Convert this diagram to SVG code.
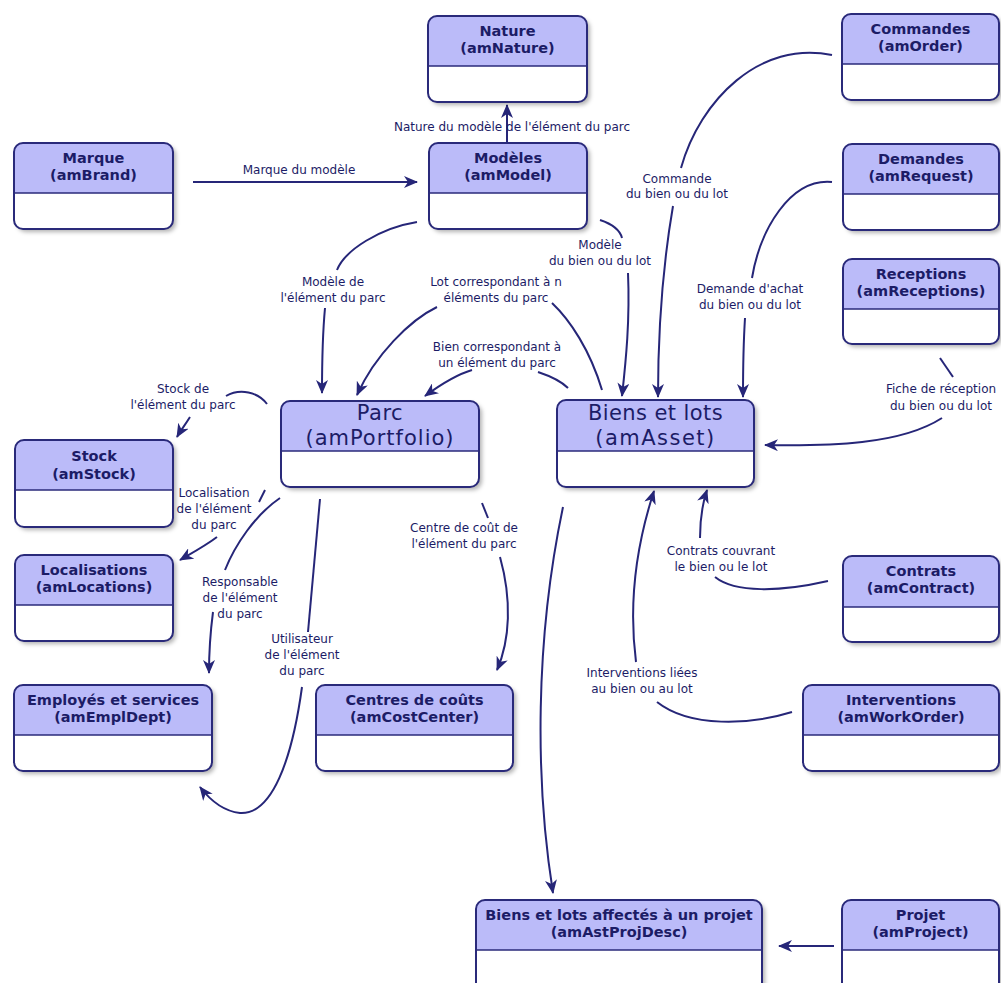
<svg xmlns="http://www.w3.org/2000/svg" width="1001" height="983" viewBox="0 0 1001 983">
<style>
.bg{fill:#fff;}
.hdr{fill:#bbbbf9;}
.ol{fill:none;stroke:#2a2a7a;stroke-width:2;}
.dv{fill:none;stroke:#2a2a7a;stroke-width:1.6;}
.t{font-family:"DejaVu Sans",sans-serif;font-weight:bold;font-size:14.5px;fill:#1c1c66;text-anchor:middle;}
.T{font-family:"DejaVu Sans",sans-serif;font-size:21px;fill:#1c1c66;text-anchor:middle;}
.l{font-family:"DejaVu Sans",sans-serif;font-size:12px;fill:#1c1c66;text-anchor:middle;}
.c{fill:none;stroke:#262678;stroke-width:2;}
.a{marker-end:url(#ah);}
</style>
<defs>
<marker id="ah" markerUnits="userSpaceOnUse" markerWidth="14" markerHeight="12" refX="13" refY="6" orient="auto">
<path d="M0,0 L14,6 L0,12 L4,6 Z" fill="#262678"/>
</marker>
<filter id="sh" x="-10%" y="-10%" width="130%" height="140%">
<feDropShadow dx="3" dy="3" stdDeviation="2" flood-color="#000" flood-opacity="0.3"/>
</filter>
</defs>
<rect width="1001" height="983" fill="#fff"/>

<g id="connectors">
<path class="c a" d="M507,142 L507,105"/>
<path class="c a" d="M193,182 L417,182"/>
<path class="c" d="M832,55 C760,40 700,100 681,168"/>
<path class="c a" d="M673,206 C662,270 658,340 658,397"/>
<path class="c" d="M832,182 C790,178 760,230 752,278"/>
<path class="c a" d="M745,318 C743,350 743,375 743,397"/>
<path class="c" d="M940,358 L953,377"/>
<path class="c a" d="M942,418 C900,445 830,446 765,445"/>
<path class="c" d="M600,220 C612,224 620,230 622,238"/>
<path class="c a" d="M628,273 C630,320 626,360 622,396"/>
<path class="c" d="M417,222 C380,228 345,250 337,270"/>
<path class="c a" d="M325,308 C322,340 322,370 322,393"/>
<path class="c" d="M602,390 C590,350 570,320 552,303"/>
<path class="c a" d="M437,307 C410,320 375,355 357,395"/>
<path class="c" d="M568,388 C560,380 550,376 538,372"/>
<path class="c a" d="M472,370 C455,375 440,385 425,396"/>
<path class="c" d="M267,404 C258,392 240,388 226,396"/>
<path class="c a" d="M190,417 C185,425 181,430 177,437"/>
<path class="c" d="M265,490 L259,502"/>
<path class="c a" d="M217,537 C205,546 192,553 180,560"/>
<path class="c" d="M280,498 C255,515 235,545 225,570"/>
<path class="c a" d="M213,612 C210,635 209,655 209,673"/>
<path class="c" d="M320,499 C316,545 312,590 308,632"/>
<path class="c a" d="M302,687 C292,760 272,815 240,813 C222,811 210,800 200,787"/>
<path class="c" d="M482,503 L488,518"/>
<path class="c a" d="M500,557 C512,600 510,640 497,670"/>
<path class="c a" d="M563,507 C535,640 535,780 553,893"/>
<path class="c a" d="M834,946 L779,946"/>
<path class="c" d="M828,581 C780,592 735,593 715,577"/>
<path class="c a" d="M700,538 C700,520 702,505 707,490"/>
<path class="c" d="M792,712 C750,725 690,728 657,702"/>
<path class="c a" d="M636,662 C628,600 638,540 654,491"/>

<text class="l" x="512" y="131">Nature du modèle de l'élément du parc</text>
<text class="l" x="299" y="174">Marque du modèle</text>
<text class="l" x="677" y="183">Commande</text>
<text class="l" x="677" y="198">du bien ou du lot</text>
<text class="l" x="600" y="249">Modèle</text>
<text class="l" x="600" y="265">du bien ou du lot</text>
<text class="l" x="750" y="293">Demande d'achat</text>
<text class="l" x="750" y="309">du bien ou du lot</text>
<text class="l" x="941" y="393">Fiche de réception</text>
<text class="l" x="941" y="410">du bien ou du lot</text>
<text class="l" x="333" y="286">Modèle de</text>
<text class="l" x="333" y="302">l'élément du parc</text>
<text class="l" x="496" y="286">Lot correspondant à n</text>
<text class="l" x="496" y="302">éléments du parc</text>
<text class="l" x="497" y="351">Bien correspondant à</text>
<text class="l" x="497" y="367">un élément du parc</text>
<text class="l" x="183" y="393">Stock de</text>
<text class="l" x="183" y="409">l'élément du parc</text>
<text class="l" x="214" y="497">Localisation</text>
<text class="l" x="214" y="513">de l'élément</text>
<text class="l" x="214" y="529">du parc</text>
<text class="l" x="240" y="586">Responsable</text>
<text class="l" x="240" y="602">de l'élément</text>
<text class="l" x="240" y="618">du parc</text>
<text class="l" x="302" y="643">Utilisateur</text>
<text class="l" x="302" y="659">de l'élément</text>
<text class="l" x="302" y="675">du parc</text>
<text class="l" x="464" y="532">Centre de coût de</text>
<text class="l" x="464" y="548">l'élément du parc</text>
<text class="l" x="721" y="555">Contrats couvrant</text>
<text class="l" x="721" y="571">le bien ou le lot</text>
<text class="l" x="642" y="677">Interventions liées</text>
<text class="l" x="642" y="693">au bien ou au lot</text>
</g>

<g id="n-nature" transform="translate(428,16)">
<rect class="bg" width="159" height="86" rx="9" filter="url(#sh)"/>
<path class="hdr" d="M0,50 V9 Q0,0 9,0 H150 Q159,0 159,9 V50 Z"/>
<path class="dv" d="M0,50 H159"/>
<rect class="ol" width="159" height="86" rx="9"/>
<text class="t" x="79.5" y="20">Nature</text>
<text class="t" x="79.5" y="37">(amNature)</text>
</g>

<g id="n-commandes" transform="translate(842,14)">
<rect class="bg" width="157" height="86" rx="9" filter="url(#sh)"/>
<path class="hdr" d="M0,50 V9 Q0,0 9,0 H148 Q157,0 157,9 V50 Z"/>
<path class="dv" d="M0,50 H157"/>
<rect class="ol" width="157" height="86" rx="9"/>
<text class="t" x="78.5" y="20">Commandes</text>
<text class="t" x="78.5" y="37">(amOrder)</text>
</g>

<g id="n-marque" transform="translate(14,143)">
<rect class="bg" width="159" height="86" rx="9" filter="url(#sh)"/>
<path class="hdr" d="M0,50 V9 Q0,0 9,0 H150 Q159,0 159,9 V50 Z"/>
<path class="dv" d="M0,50 H159"/>
<rect class="ol" width="159" height="86" rx="9"/>
<text class="t" x="79.5" y="20">Marque</text>
<text class="t" x="79.5" y="37">(amBrand)</text>
</g>

<g id="n-modeles" transform="translate(429,143)">
<rect class="bg" width="158" height="86" rx="9" filter="url(#sh)"/>
<path class="hdr" d="M0,50 V9 Q0,0 9,0 H149 Q158,0 158,9 V50 Z"/>
<path class="dv" d="M0,50 H158"/>
<rect class="ol" width="158" height="86" rx="9"/>
<text class="t" x="79" y="20">Modèles</text>
<text class="t" x="79" y="37">(amModel)</text>
</g>

<g id="n-demandes" transform="translate(843,144)">
<rect class="bg" width="156" height="86" rx="9" filter="url(#sh)"/>
<path class="hdr" d="M0,50 V9 Q0,0 9,0 H147 Q156,0 156,9 V50 Z"/>
<path class="dv" d="M0,50 H156"/>
<rect class="ol" width="156" height="86" rx="9"/>
<text class="t" x="78" y="20">Demandes</text>
<text class="t" x="78" y="37">(amRequest)</text>
</g>

<g id="n-receptions" transform="translate(843,259)">
<rect class="bg" width="156" height="85" rx="9" filter="url(#sh)"/>
<path class="hdr" d="M0,50 V9 Q0,0 9,0 H147 Q156,0 156,9 V50 Z"/>
<path class="dv" d="M0,50 H156"/>
<rect class="ol" width="156" height="85" rx="9"/>
<text class="t" x="78" y="20">Receptions</text>
<text class="t" x="78" y="37">(amReceptions)</text>
</g>

<g id="n-parc" transform="translate(281,401)">
<rect class="bg" width="198" height="86" rx="9" filter="url(#sh)"/>
<path class="hdr" d="M0,50 V9 Q0,0 9,0 H189 Q198,0 198,9 V50 Z"/>
<path class="dv" d="M0,50 H198"/>
<rect class="ol" width="198" height="86" rx="9"/>
<text class="T" x="99" y="19" letter-spacing="0.5">Parc</text>
<text class="T" x="99" y="44" letter-spacing="1">(amPortfolio)</text>
</g>

<g id="n-biens" transform="translate(557,400)">
<rect class="bg" width="197" height="87" rx="9" filter="url(#sh)"/>
<path class="hdr" d="M0,51 V9 Q0,0 9,0 H188 Q197,0 197,9 V51 Z"/>
<path class="dv" d="M0,51 H197"/>
<rect class="ol" width="197" height="87" rx="9"/>
<text class="T" x="98.5" y="20" letter-spacing="0.4">Biens et lots</text>
<text class="T" x="98.5" y="45" letter-spacing="1.5">(amAsset)</text>
</g>

<g id="n-stock" transform="translate(15,440)">
<rect class="bg" width="158" height="87" rx="9" filter="url(#sh)"/>
<path class="hdr" d="M0,50 V9 Q0,0 9,0 H149 Q158,0 158,9 V50 Z"/>
<path class="dv" d="M0,50 H158"/>
<rect class="ol" width="158" height="87" rx="9"/>
<text class="t" x="79" y="21">Stock</text>
<text class="t" x="79" y="39">(amStock)</text>
</g>

<g id="n-localisations" transform="translate(15,555)">
<rect class="bg" width="158" height="86" rx="9" filter="url(#sh)"/>
<path class="hdr" d="M0,50 V9 Q0,0 9,0 H149 Q158,0 158,9 V50 Z"/>
<path class="dv" d="M0,50 H158"/>
<rect class="ol" width="158" height="86" rx="9"/>
<text class="t" x="79" y="20">Localisations</text>
<text class="t" x="79" y="37">(amLocations)</text>
</g>

<g id="n-contrats" transform="translate(843,556)">
<rect class="bg" width="156" height="86" rx="9" filter="url(#sh)"/>
<path class="hdr" d="M0,51 V9 Q0,0 9,0 H147 Q156,0 156,9 V51 Z"/>
<path class="dv" d="M0,51 H156"/>
<rect class="ol" width="156" height="86" rx="9"/>
<text class="t" x="78" y="20">Contrats</text>
<text class="t" x="78" y="37">(amContract)</text>
</g>

<g id="n-employes" transform="translate(14,685)">
<rect class="bg" width="198" height="86" rx="9" filter="url(#sh)"/>
<path class="hdr" d="M0,50 V9 Q0,0 9,0 H189 Q198,0 198,9 V50 Z"/>
<path class="dv" d="M0,50 H198"/>
<rect class="ol" width="198" height="86" rx="9"/>
<text class="t" x="99" y="20">Employés et services</text>
<text class="t" x="99" y="37">(amEmplDept)</text>
</g>

<g id="n-centres" transform="translate(316,685)">
<rect class="bg" width="197" height="86" rx="9" filter="url(#sh)"/>
<path class="hdr" d="M0,50 V9 Q0,0 9,0 H188 Q197,0 197,9 V50 Z"/>
<path class="dv" d="M0,50 H197"/>
<rect class="ol" width="197" height="86" rx="9"/>
<text class="t" x="98.5" y="20">Centres de coûts</text>
<text class="t" x="98.5" y="37">(amCostCenter)</text>
</g>

<g id="n-interventions" transform="translate(803,685)">
<rect class="bg" width="196" height="86" rx="9" filter="url(#sh)"/>
<path class="hdr" d="M0,50 V9 Q0,0 9,0 H187 Q196,0 196,9 V50 Z"/>
<path class="dv" d="M0,50 H196"/>
<rect class="ol" width="196" height="86" rx="9"/>
<text class="t" x="98" y="20">Interventions</text>
<text class="t" x="98" y="37">(amWorkOrder)</text>
</g>

<g id="n-affectes" transform="translate(476,900)">
<rect class="bg" width="286" height="92" rx="9" filter="url(#sh)"/>
<path class="hdr" d="M0,50 V9 Q0,0 9,0 H277 Q286,0 286,9 V50 Z"/>
<path class="dv" d="M0,50 H286"/>
<rect class="ol" width="286" height="92" rx="9"/>
<text class="t" x="143" y="20">Biens et lots affectés à un projet</text>
<text class="t" x="143" y="37">(amAstProjDesc)</text>
</g>

<g id="n-projet" transform="translate(842,900)">
<rect class="bg" width="157" height="92" rx="9" filter="url(#sh)"/>
<path class="hdr" d="M0,50 V9 Q0,0 9,0 H148 Q157,0 157,9 V50 Z"/>
<path class="dv" d="M0,50 H157"/>
<rect class="ol" width="157" height="92" rx="9"/>
<text class="t" x="78.5" y="20">Projet</text>
<text class="t" x="78.5" y="37">(amProject)</text>
</g>
</svg>
